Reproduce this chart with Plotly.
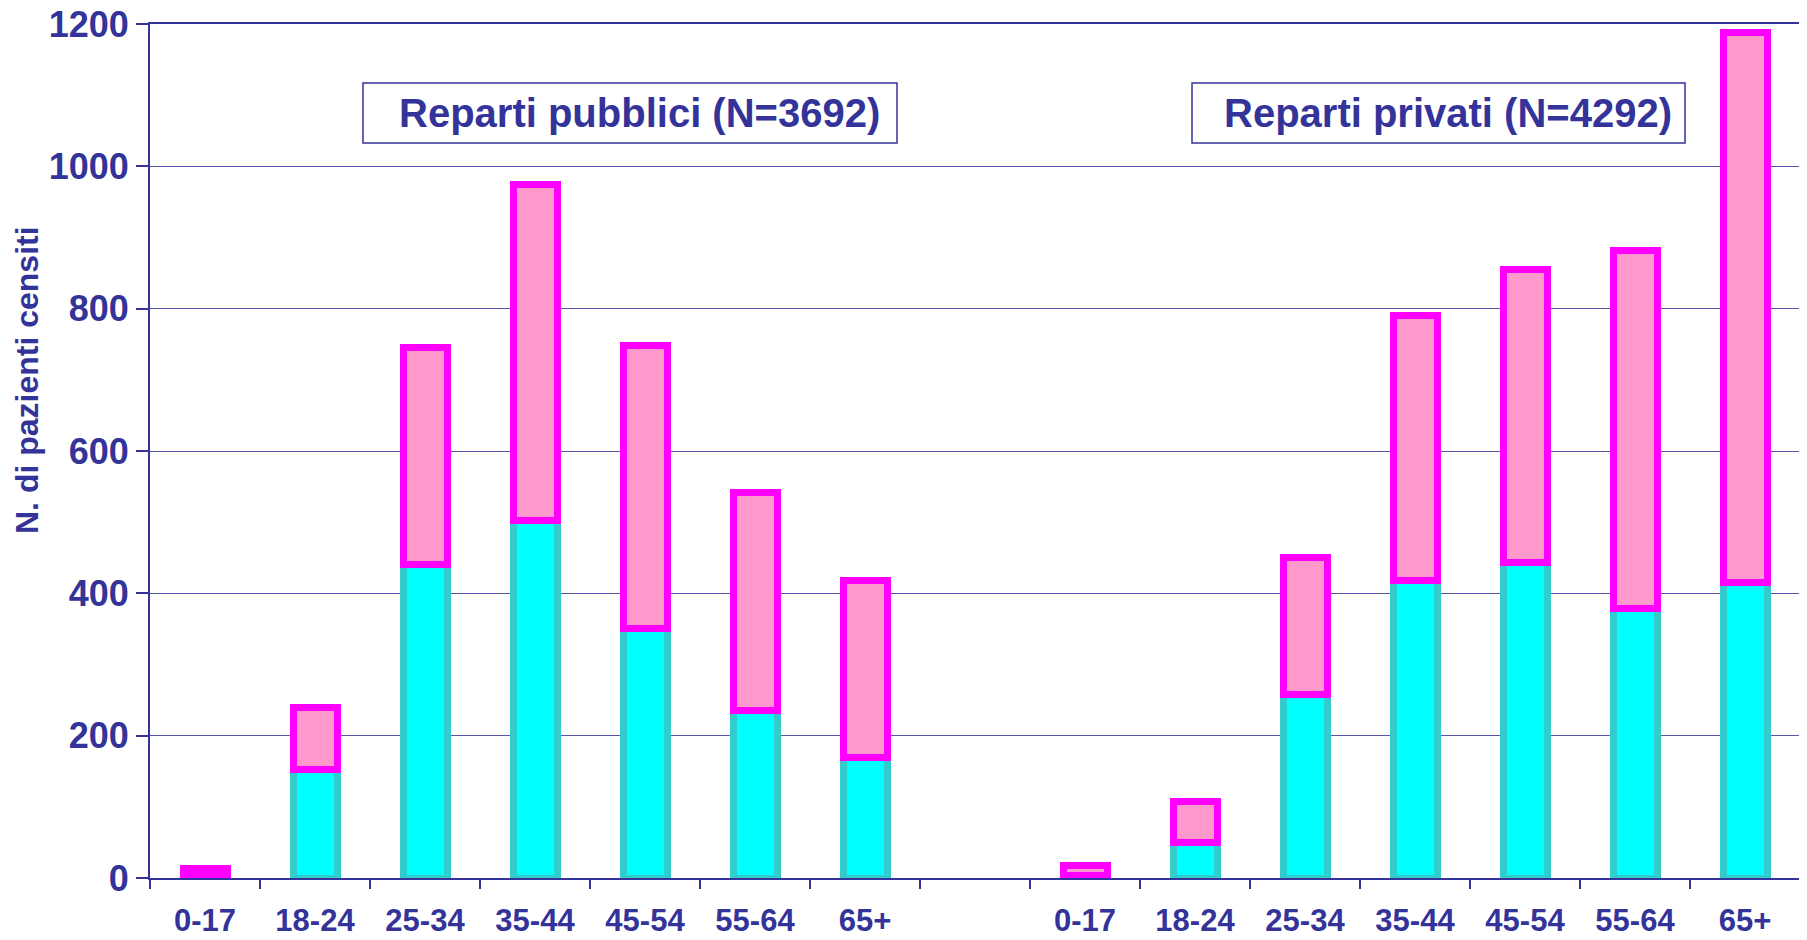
import plotly.graph_objects as go

# ---- data ----
fasce = ["0-17", "18-24", "25-34", "35-44", "45-54", "55-64", "65+"]
pubblici_inferiore = [3, 153, 440, 503, 350, 235, 170]
pubblici_superiore = [11, 87, 305, 472, 398, 307, 248]
privati_inferiore = [3, 50, 258, 418, 443, 378, 415]
privati_superiore = [14, 57, 192, 372, 412, 504, 773]
y_ticks = [0, 200, 400, 600, 800, 1000, 1200]
titolo_pubblici = "Reparti pubblici (N=3692)"
titolo_privati = "Reparti privati (N=4292)"
titolo_y = "N. di pazienti censiti"

# positions: 7 public slots, one empty slot, 7 private slots
n = len(fasce)
x_pub = list(range(n))
x_priv = [n + 1 + i for i in range(n)]
x_all = x_pub + x_priv
bounds = [i - 0.5 for i in range(2 * n + 2)]

NAVY = "#333399"
FONT = "Liberation Sans, Arial, sans-serif"

fig = go.Figure()
fig.add_trace(go.Bar(
    x=x_all, y=pubblici_inferiore + privati_inferiore, width=0.4,
    marker=dict(color="#00FFFF", line=dict(color="#33CCCC", width=7)),
    showlegend=False, hoverinfo="y"))
fig.add_trace(go.Bar(
    x=x_all, y=pubblici_superiore + privati_superiore, width=0.4,
    marker=dict(color="#FF99CC", line=dict(color="#FF00FF", width=7)),
    showlegend=False, hoverinfo="y"))

# the page body adds an 8px margin, so the figure is 8px smaller on each axis
fig.update_layout(
    width=1799, height=932, barmode="stack",
    margin=dict(l=142, r=7, t=16, b=62),
    plot_bgcolor="white", paper_bgcolor="white",
    font=dict(family=FONT, color=NAVY),
    xaxis=dict(
        range=[-0.5, 2 * n + 0.5], tickmode="array", tickvals=x_all,
        ticktext=fasce + fasce, ticks="", showgrid=False, zeroline=False,
        showline=True, linecolor=NAVY, linewidth=2, automargin=False,
        mirror=True,
        tickfont=dict(size=31, family=FONT, weight="bold", color=NAVY),
        ticklabelstandoff=14, ticklabeloverflow="allow",
        minor=dict(tickmode="array", tickvals=bounds, ticks="outside",
                   ticklen=9, tickwidth=1.5, tickcolor=NAVY, showgrid=False),
    ),
    yaxis=dict(
        range=[0, 1200], tickmode="array", tickvals=y_ticks,
        showgrid=True, gridcolor="#5555AA", gridwidth=1, zeroline=False,
        showline=True, linecolor=NAVY, linewidth=2, automargin=False,
        ticks="outside", ticklen=12, tickcolor=NAVY, tickwidth=1.5,
        ticklabeloverflow="allow",
        tickfont=dict(size=36, family=FONT, weight="bold", color=NAVY),
    ),
)

# y title
fig.add_annotation(text=titolo_y, xref="paper", yref="paper",
                   x=(27 - 150) / 1650, y=(878 - 380) / 854, textangle=-90,
                   showarrow=False, xanchor="center", yanchor="middle",
                   font=dict(size=32, family=FONT, weight="bold", color=NAVY))

# boxed labels
for (bx0, bx1, tx, txt) in [(363, 897, 639.5, titolo_pubblici),
                            (1192, 1685, 1447.5, titolo_privati)]:
    fig.add_shape(type="rect", xref="paper", yref="paper",
                  x0=(bx0 - 150) / 1650, x1=(bx1 - 150) / 1650,
                  y0=(878 - 143) / 854, y1=(878 - 83) / 854,
                  line=dict(color=NAVY, width=1.5), fillcolor="white", layer="above")
    fig.add_annotation(text=txt, xref="paper", yref="paper",
                       x=(tx - 150) / 1650, y=(878 - 113) / 854,
                       showarrow=False, xanchor="center", yanchor="middle",
                       font=dict(size=40, family=FONT, weight="bold", color=NAVY))

fig.write_html("out.html")
